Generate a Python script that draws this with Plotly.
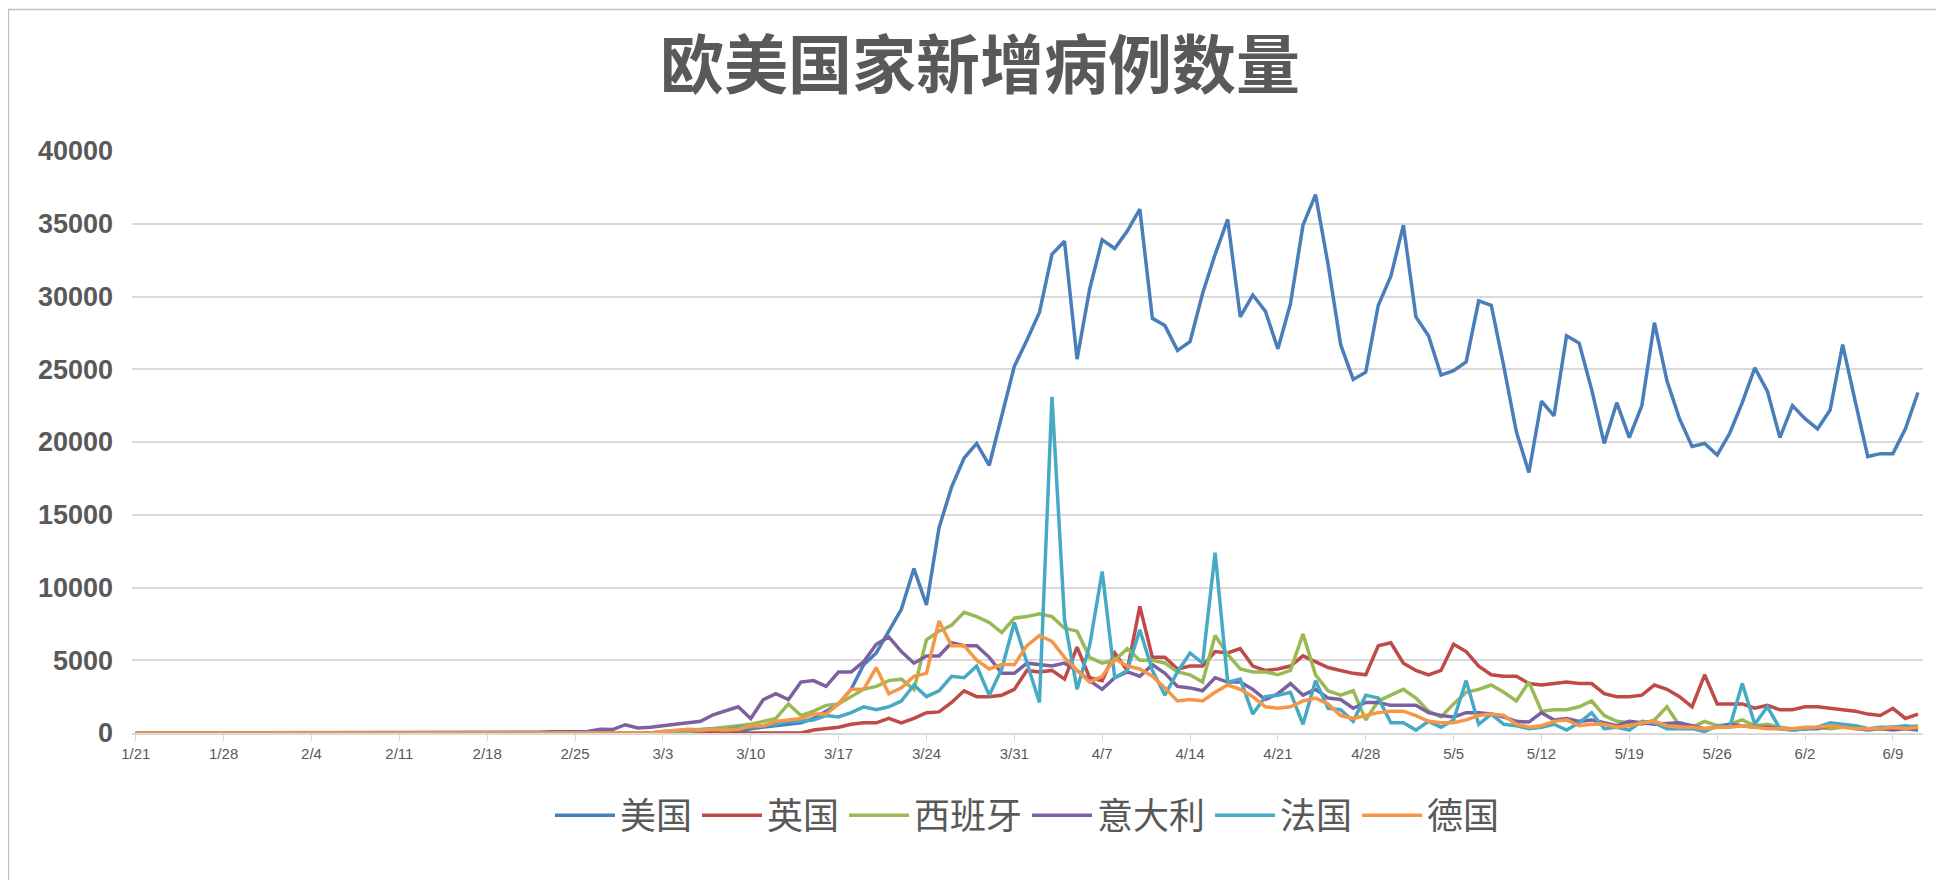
import plotly.graph_objects as go
import pandas as pd

# date range 1/21 - 6/11
dates = pd.date_range("2020-01-21", "2020-06-11")
labels = [f"{d.month}/{d.day}" for d in dates]

# series values (right-aligned so the last value is 6/11; earlier days are 0)
us = [300, 400, 500, 600, 700, 1000, 1500, 2000, 3000, 4700, 5500, 7000, 8500, 11300, 8800,
      14100, 16900, 18900, 19900, 18400, 21800, 25200, 27000, 28900, 32900, 33800, 25700,
      30500, 33900, 33300, 34500, 36000, 28500, 28000, 26300, 26900, 30200, 32900, 35300,
      28600, 30100, 29000, 26400, 29500, 34900, 37000, 32200, 26700, 24300, 24800, 29400,
      31400, 34900, 28600, 27300, 24600, 24900, 25500, 29700, 29400, 25200, 20700, 17900,
      22800, 21800, 27300, 26800, 23600, 19900, 22700, 20300, 22500, 28200, 24200, 21600,
      19700, 19900, 19100, 20600, 22700, 25100, 23500, 20300, 22500, 21600, 20900, 22200,
      26700, 22800, 19000, 19200, 19200, 20900, 23400]
uk = [200, 300, 400, 600, 700, 700, 1000, 700, 1000, 1400, 1450, 2100, 2900, 2500, 2500, 2600,
      3000, 4300, 4200, 4300, 3700, 5900, 3800, 3600, 5500, 4300, 8700, 5200, 5200, 4400, 4600,
      4600, 5600, 5500, 5800, 4600, 4300, 4400, 4600, 5300, 4900, 4500, 4300, 4100, 4000, 6000,
      6200, 4800, 4300, 4000, 4300, 6100, 5600, 4600, 4000, 3900, 3900, 3400, 3300, 3400, 3500,
      3400, 3400, 2700, 2500, 2500, 2600, 3300, 3000, 2500, 1800, 4000, 2000, 2000, 2000, 1700,
      1900, 1600, 1600, 1800, 1800, 1700, 1600, 1500, 1300, 1200, 1700, 1000, 1300]
spain = [100, 200, 300, 400, 500, 600, 800, 1000, 2000, 1200, 1500, 1900, 2000, 2500, 3000,
         3200, 3600, 3700, 3000, 6400, 7000, 7400, 8300, 8000, 7600, 6900, 7900, 8000, 8200,
         8000, 7200, 7000, 5200, 4800, 5000, 5800, 5000, 5000, 4800, 4200, 4000, 3500, 6700,
         5400, 4400, 4200, 4200, 4000, 4300, 6800, 4000, 2900, 2600, 2900, 900, 2200, 2600,
         3000, 2400, 1500, 1100, 2000, 2800, 3000, 3300, 2800, 2200, 3500, 1500, 1600, 1600,
         1800, 2200, 1200, 800, 700, 600, 900, 1800, 500, 400, 800, 500, 600, 900, 500, 600,
         400, 300, 300, 400, 300, 400, 500, 300, 300, 400, 400, 500]
italy = [20, 60, 80, 90, 100, 100, 250, 240, 570, 350, 400, 500, 600, 750, 800, 1250, 1500,
         1800, 1000, 2300, 2700, 2300, 3500, 3600, 3200, 4200, 4200, 4900, 6100, 6600, 5600,
         4800, 5300, 5300, 6200, 6000, 6000, 5200, 4100, 4100, 4800, 4700, 4600, 4800, 4300,
         3600, 3000, 3800, 4200, 3900, 4700, 4100, 3200, 3100, 2900, 3800, 3500, 3500, 3000,
         2300, 2700, 3400, 2600, 3000, 2400, 2300, 1700, 2100, 2100, 1900, 1900, 1900, 1400,
         1200, 1100, 1400, 1400, 1300, 1100, 800, 750, 1400, 900, 1000, 800, 900, 700, 500, 800,
         700, 600, 650, 700, 500, 300, 400, 600, 500, 400, 400, 300, 200, 300, 300, 500, 500,
         300, 200, 300, 200, 300, 200]
france = [100, 150, 200, 300, 300, 200, 400, 400, 500, 600, 800, 800, 900, 1200, 1100, 1400,
          1800, 1600, 1800, 2200, 3300, 2500, 2900, 3900, 3800, 4600, 2600, 4400, 7600, 4800,
          2100, 23100, 7800, 3000, 6000, 11100, 3800, 4300, 7100, 4300, 2600, 4200, 5500, 4800,
          12400, 3500, 3700, 1300, 2500, 2600, 2800, 600, 3600, 1700, 1600, 800, 2600, 2400,
          700, 700, 200, 800, 400, 900, 3600, 600, 1300, 600, 500, 300, 400, 600, 200, 700,
          1400, 300, 400, 200, 800, 700, 300, 300, 300, 100, 500, 400, 3400, 600, 1800, 300,
          200, 300, 400, 700, 600, 500, 300, 400, 400, 500, 400]
germany = [100, 150, 250, 200, 250, 200, 250, 500, 500, 800, 900, 1000, 1300, 1300, 2000,
           3000, 3000, 4500, 2700, 3100, 3900, 4100, 7700, 6000, 6000, 5000, 4400, 4700, 4700,
           6000, 6700, 6300, 5200, 4300, 3500, 3900, 5100, 4600, 4400, 3900, 3100, 2200, 2300,
           2200, 2800, 3300, 3000, 2500, 1800, 1700, 1800, 2200, 2400, 2000, 1200, 1000, 1200,
           1400, 1500, 1500, 1200, 800, 700, 700, 900, 1200, 1300, 1200, 600, 400, 500, 800,
           900, 500, 600, 600, 400, 500, 700, 800, 500, 400, 400, 300, 400, 400, 500, 400, 300,
           300, 300, 400, 400, 500, 400, 300, 300, 300, 400, 300, 400]

names = ["美国", "英国", "西班牙", "意大利", "法国", "德国"]
series = [us, uk, spain, italy, france, germany]
colors = ["#4a7ebb", "#be4b48", "#98b954", "#7d60a0", "#46aac5", "#f79646"]

n = len(labels)
fig = go.Figure()
for name, vals, c in zip(names, series, colors):
    y = [0] * (n - len(vals)) + vals
    fig.add_trace(go.Scatter(x=labels, y=y, mode="lines", name=name,
                             line=dict(color=c, width=3.5)))

fig.update_layout(
    width=1944, height=880,
    paper_bgcolor="white", plot_bgcolor="white",
    margin=dict(l=124, r=29, t=143, b=155),
    title=dict(text="<b>欧美国家新增病例数量</b>", x=0.5, y=0.96, xanchor="center",
               font=dict(family="Noto Sans CJK SC", size=64, color="#595959")),
    legend=dict(orientation="h", x=0.5, xanchor="center", y=-0.09, yanchor="top",
                font=dict(family="Noto Sans CJK SC", size=36, color="#595959"),
                itemwidth=60),
    font=dict(family="Noto Sans CJK SC", color="#595959"),
    shapes=[dict(type="rect", xref="paper", yref="paper", x0=-0.069, x1=1.0155,
                 y0=-0.264, y1=1.243, line=dict(color="#bfbfbf", width=1.5))],
)
fig.update_xaxes(type="category", range=[-0.3, n - 0.6],
                 tickvals=labels[::7], ticktext=labels[::7],
                 ticks="outside", ticklen=6, tickcolor="#d9d9d9",
                 showgrid=False, showline=True, linecolor="#d9d9d9", linewidth=2,
                 tickfont=dict(family="Liberation Sans", size=15, color="#595959"))
fig.update_yaxes(range=[0, 40000], dtick=5000, tickformat="d", showgrid=True,
                 gridcolor="#d9d9d9", gridwidth=2, zeroline=False, showline=False,
                 tickfont=dict(family="Liberation Sans", size=27, color="#595959"),
                 tickprefix="<b>", ticksuffix="</b>", ticklabelstandoff=18)

fig.write_html("out.html")
